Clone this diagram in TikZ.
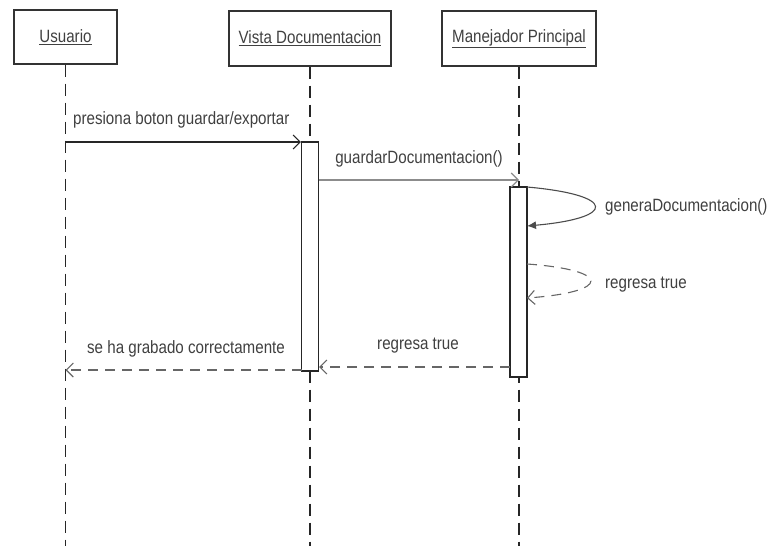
\documentclass[tikz,border=0pt]{standalone}
\usepackage{fontspec}
\setmainfont[FakeStretch=0.85]{Liberation Sans}
\usetikzlibrary{arrows.meta}
\begin{document}
\begin{tikzpicture}[x=1pt,y=-1pt,
  lbl/.style={font=\fontsize{17.8}{20}\selectfont, text=black!75, inner sep=0pt},
  actor/.style={draw=black!80, line width=1.2pt, lbl, inner sep=0pt},
  lifeline/.style={draw=black!85, line width=1.4pt, dash pattern=on 12pt off 7pt},
  act/.style={draw=black!85, line width=1.2pt, fill=white, inner sep=0pt},
  openhead/.style={-{Straight Barb[length=7pt,width=14pt]}},
  call/.style={draw=black!85, line width=1.1pt, openhead},
  ret/.style={draw=black!60, line width=1.1pt, dash pattern=on 10pt off 7pt, openhead},
]
\useasboundingbox (0,0) rectangle (771,546);

% participants
\node[actor, minimum width=103pt, minimum height=54pt] (usr) at (65.5,37) {\underline{Usuario}};
\node[actor, minimum width=162pt, minimum height=55pt] (vis) at (310,38.5) {\underline{Vista Documentacion}};
\node[actor, minimum width=154pt, minimum height=55pt] (man) at (519,38.5) {\underline{Manejador Principal}};

% lifelines
\coordinate (usrEnd) at (65.5,546);
\coordinate (visEnd) at (310,546);
\coordinate (manEnd) at (519,546);
\draw[lifeline] (usr.south) -- (usrEnd);
\draw[lifeline] (vis.south) -- (visEnd);
\draw[lifeline] (man.south) -- (manEnd);

% activation bars
\node[act, minimum width=17pt, minimum height=229pt] (vact) at (310,256.5) {};
\node[act, minimum width=17pt, minimum height=190pt] (mact) at (518.5,282) {};

% presiona boton guardar/exportar
\coordinate (m1s) at (65.5,142);
\draw[call] (m1s) -- (m1s -| vact.west);
\node[lbl, anchor=base west] (m1l) at (73,124) {presiona boton guardar/exportar};

% guardarDocumentacion()
\coordinate (m2s) at (318.5,180);
\coordinate (m2e) at (519,180);
\draw[call, draw=black!45] (m2s) -- (m2e);
\node[lbl, anchor=base] (m2l) at (419,163) {guardarDocumentacion()};

% generaDocumentacion() self call
\coordinate (s1s) at (527,187);
\coordinate (s1e) at (527,226);
\draw[draw=black!70, line width=1.1pt, -{Latex[length=9pt,width=8pt]}]
  (s1s) .. controls (617,195) and (617,218) .. (s1e);
\node[lbl, anchor=base west] (s1l) at (605,211) {generaDocumentacion()};

% regresa true self return
\coordinate (s2s) at (527,264);
\coordinate (s2e) at (527,298);
\draw[ret] (s2s) .. controls (612,270) and (612,292) .. (s2e);
\node[lbl, anchor=base west] (s2l) at (605,288) {regresa true};

% regresa true to the view
\coordinate (m5s) at (510,367);
\draw[ret] (m5s) -- (m5s -| vact.east);
\node[lbl, anchor=base] (m5l) at (418,349) {regresa true};

% se ha grabado correctamente
\coordinate (m6s) at (301.5,370);
\draw[ret] (m6s) -- (m6s -| usrEnd);
\node[lbl, anchor=base] (m6l) at (186,353) {se ha grabado correctamente};
\end{tikzpicture}
\end{document}
